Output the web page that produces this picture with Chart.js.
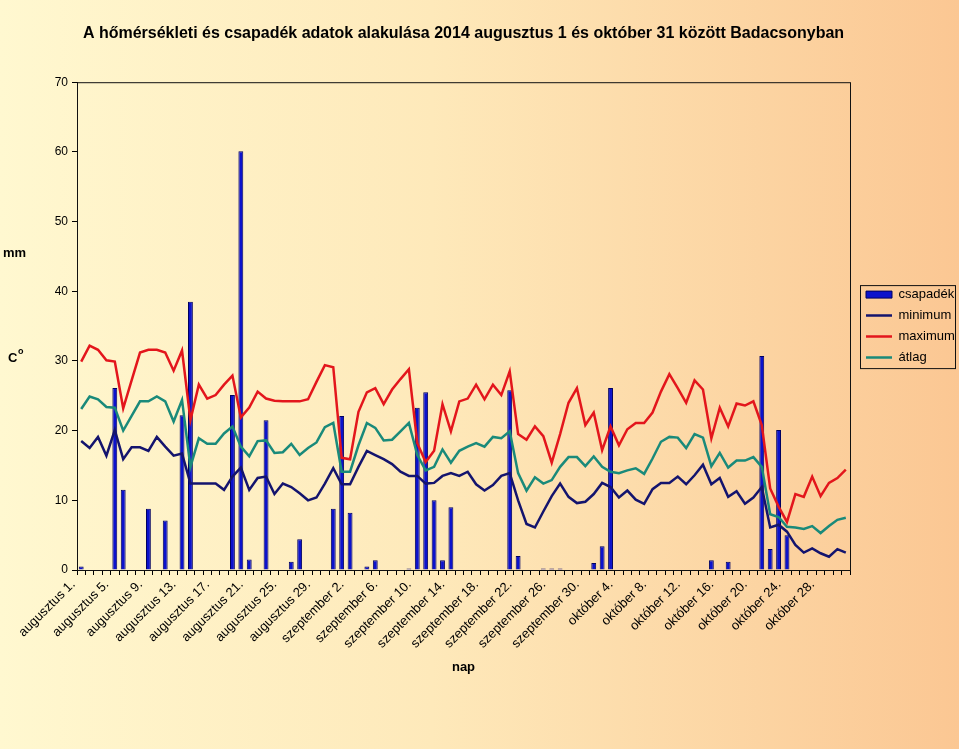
<!DOCTYPE html>
<html>
<head>
<meta charset="utf-8">
<script src="https://cdn.jsdelivr.net/npm/chart.js@4"></script>
<style>
  html, body { margin: 0; padding: 0; }
  body {
    width: 959px; height: 749px; overflow: hidden;
    background: linear-gradient(to right, #fff8d0 0%, #fee9ba 45%, #fbc793 100%);
  }
  #wrap { position: relative; width: 959px; height: 749px; }
</style>
</head>
<body>
<div id="wrap"><canvas id="chart"></canvas></div>
<script>
// months of the period (aug 1 - oct 31)
const months = ['augusztus', 'szeptember', 'október'];
const monthDays = [31, 30, 31];
const days = [];
months.forEach((m, k) => {
  for (let d = 1; d <= monthDays[k]; d++) days.push(m + ' ' + d + '.');
});

// csapadék (mm)
const csapadek = [
  0.5, 0, 0, 0, 26.1, 11.5, 0, 0, 8.8, 0, 7.1, 0, 22.2, 38.5, 0, 0, 0, 0, 25.1, 60.1,
  1.5, 0, 21.5, 0, 0, 1.2, 4.4, 0, 0, 0, 8.8, 22.1, 8.2, 0, 0.5, 1.4, 0, 0, 0, 0.2,
  23.3, 25.5, 10.0, 1.4, 9.0, 0, 0, 0, 0, 0, 0, 25.8, 2.0, 0, 0, 0.2, 0.2, 0.2, 0, 0,
  0, 1.0, 3.4, 26.1, 0, 0, 0, 0, 0, 0, 0, 0, 0, 0, 0, 1.4, 0, 1.2, 0, 0,
  0, 30.7, 3.0, 20.1, 5.0, 0, 0, 0, 0, 0, 0, 0
];

// minimum hőmérséklet (°C)
const minimum = [
  18.5, 17.5, 19.1, 16.4, 20.1, 15.9, 17.6, 17.6, 17.1, 19.1, 17.7, 16.4, 16.7, 12.4, 12.4, 12.4, 12.4, 11.5, 13.4, 14.7,
  11.5, 13.2, 13.4, 10.9, 12.4, 11.9, 11.0, 10.0, 10.4, 12.4, 14.6, 12.3, 12.3, 14.8, 17.1, 16.5, 15.9, 15.2, 14.1, 13.5,
  13.5, 12.4, 12.5, 13.5, 13.9, 13.5, 14.1, 12.3, 11.4, 12.2, 13.5, 13.9, 10.0, 6.6, 6.1, 8.4, 10.6, 12.4, 10.5, 9.6,
  9.8, 10.9, 12.5, 11.9, 10.4, 11.4, 10.1, 9.5, 11.6, 12.5, 12.5, 13.4, 12.3, 13.6, 15.1, 12.3, 13.2, 10.5, 11.3, 9.5,
  10.4, 11.9, 6.1, 6.5, 5.5, 3.6, 2.5, 3.1, 2.4, 1.9, 3.0, 2.5
];

// maximum hőmérséklet (°C)
const maximum = [
  29.9, 32.2, 31.6, 30.1, 29.9, 23.2, 27.2, 31.2, 31.6, 31.6, 31.2, 28.6, 31.5, 21.5, 26.6, 24.6, 25.1, 26.6, 27.9, 21.9,
  23.3, 25.6, 24.6, 24.3, 24.2, 24.2, 24.2, 24.5, 27.0, 29.4, 29.1, 16.1, 15.9, 22.7, 25.5, 26.1, 23.8, 25.9, 27.4, 28.8,
  18.2, 15.5, 17.1, 23.8, 19.9, 24.2, 24.6, 26.6, 24.5, 26.6, 25.1, 28.5, 19.5, 18.7, 20.6, 19.2, 15.4, 19.5, 24.0, 26.1,
  20.8, 22.6, 17.2, 20.6, 17.9, 20.2, 21.1, 21.1, 22.6, 25.6, 28.1, 26.1, 24.0, 27.2, 25.9, 18.9, 23.3, 20.6, 23.9, 23.6,
  24.2, 20.8, 11.7, 9.1, 6.9, 10.9, 10.5, 13.4, 10.6, 12.5, 13.2, 14.4
];

// átlag hőmérséklet (°C)
const atlag = [
  23.1, 24.9, 24.5, 23.4, 23.3, 20.0, 22.1, 24.2, 24.2, 24.9, 24.2, 21.3, 24.4, 14.8, 18.9, 18.1, 18.1, 19.6, 20.6, 17.7,
  16.3, 18.5, 18.6, 16.8, 16.9, 18.1, 16.5, 17.5, 18.3, 20.5, 21.1, 14.1, 14.1, 17.9, 21.1, 20.4, 18.6, 18.7, 19.9, 21.1,
  16.5, 14.3, 14.8, 17.3, 15.4, 17.1, 17.7, 18.2, 17.7, 19.1, 18.9, 19.9, 13.9, 11.4, 13.3, 12.4, 12.9, 14.8, 16.2, 16.2,
  14.9, 16.3, 14.8, 14.1, 13.9, 14.3, 14.6, 13.8, 16.0, 18.4, 19.1, 19.0, 17.5, 19.5, 19.0, 14.9, 16.8, 14.7, 15.7, 15.7,
  16.2, 14.8, 8.0, 7.6, 6.2, 6.1, 5.9, 6.3, 5.3, 6.3, 7.2, 7.5
];

const yTicks = [0, 10, 20, 30, 40, 50, 60, 70];

// plot frame, legend box and the "mm" / "C°" side labels
const extras = {
  id: 'extras',
  afterDraw(chart) {
    const ctx = chart.ctx;
    const a = chart.chartArea;
    ctx.save();
    ctx.strokeStyle = '#111';
    ctx.lineWidth = 1;
    ctx.strokeRect(a.left + 0.5, a.top + 0.5, a.right - a.left, a.bottom - a.top);

    const hb = chart.legend.legendHitBoxes;
    if (hb && hb.length) {
      const l = Math.min(...hb.map(h => h.left)) - 6;
      const t = hb[0].top - 3;
      const b = hb[hb.length - 1].top + hb[hb.length - 1].height + 4;
      ctx.strokeRect(l + 0.5, t + 0.5, 95, b - t);
    }

    ctx.fillStyle = '#000';
    ctx.font = 'bold 13px Arial';
    ctx.textBaseline = 'middle';
    ctx.textAlign = 'left';
    ctx.fillText('mm', 3, 253);
    ctx.fillText('C', 8, 358);
    ctx.font = 'bold 9px Arial';
    ctx.fillText('o', 18, 352);
    ctx.restore();
  }
};

new Chart(document.getElementById('chart'), {
  data: {
    labels: days,
    datasets: [
      {
        type: 'bar',
        label: 'csapadék',
        data: csapadek,
        backgroundColor: '#0c12cc',
        borderColor: '#000060',
        borderWidth: 1,
        barPercentage: 0.58,
        categoryPercentage: 1,
        order: 1
      },
      {
        type: 'line',
        label: 'minimum',
        data: minimum,
        borderColor: '#14146e',
        backgroundColor: '#14146e',
        borderWidth: 2.5,
        pointRadius: 0,
        tension: 0,
        order: 0
      },
      {
        type: 'line',
        label: 'maximum',
        data: maximum,
        borderColor: '#e3161c',
        backgroundColor: '#e3161c',
        borderWidth: 2.5,
        pointRadius: 0,
        tension: 0,
        order: 0
      },
      {
        type: 'line',
        label: 'átlag',
        data: atlag,
        borderColor: '#1a8a7a',
        backgroundColor: '#1a8a7a',
        borderWidth: 2.5,
        pointRadius: 0,
        tension: 0,
        order: 0
      }
    ]
  },
  options: {
    responsive: true,
    maintainAspectRatio: false,
    animation: false,
    layout: { padding: { left: 0, right: 0, top: 0, bottom: 0 } },
    plugins: {
      title: {
        display: true,
        fullSize: false,
        text: 'A hőmérsékleti és csapadék adatok alakulása 2014 augusztus 1 és október 31 között Badacsonyban',
        color: '#000',
        font: { family: 'Arial', size: 16, weight: 'bold', lineHeight: 1.2 },
        padding: { top: 24, bottom: 39 }
      },
      legend: {
        position: 'right',
        fullSize: false,
        maxWidth: 101,
        labels: {
          color: '#000',
          font: { family: 'Arial', size: 13 },
          usePointStyle: true,
          pointStyleWidth: 26,
          boxHeight: 7,
          padding: 8,
          sort: (a, b) => a.datasetIndex - b.datasetIndex,
          generateLabels(chart) {
            const items = Chart.defaults.plugins.legend.labels.generateLabels(chart);
            items.forEach(it => {
              it.pointStyle = it.datasetIndex === 0 ? 'rect' : 'line';
              if (it.datasetIndex === 0) it.lineWidth = 1;
            });
            return items;
          }
        }
      },
      tooltip: { enabled: false }
    },
    scales: {
      x: {
        type: 'category',
        offset: true,
        afterFit(scale) { scale.height = 179; },
        grid: { offset: true, drawOnChartArea: false, drawTicks: true, tickLength: 5, color: '#000' },
        border: { display: true, color: '#000' },
        ticks: {
          autoSkip: false,
          maxRotation: 45,
          minRotation: 45,
          padding: 2,
          labelOffset: -8,
          color: '#000',
          font: { family: 'Arial', size: 13 },
          callback: (v, i) => (i % 4 === 0 ? days[i] : '')
        },
        title: {
          display: true,
          text: 'nap',
          color: '#000',
          font: { family: 'Arial', size: 13, weight: 'bold' },
          padding: { top: 0, bottom: 74 }
        }
      },
      y: {
        min: 0,
        max: 70,
        afterFit(scale) { scale.width = 77; },
        afterBuildTicks(scale) { scale.ticks = yTicks.map(v => ({ value: v })); },
        grid: { drawOnChartArea: false, drawTicks: true, tickLength: 5, color: '#000' },
        border: { display: true, color: '#000' },
        ticks: {
          padding: 4,
          color: '#000',
          font: { family: 'Arial', size: 12 }
        }
      },
      // empty spacer between the plot frame and the legend
      gap: {
        type: 'linear',
        position: 'right',
        display: true,
        afterFit(scale) { scale.width = 8; },
        grid: { display: false },
        border: { display: false },
        ticks: { display: false }
      }
    }
  },
  plugins: [extras]
});
</script>
</body>
</html>
